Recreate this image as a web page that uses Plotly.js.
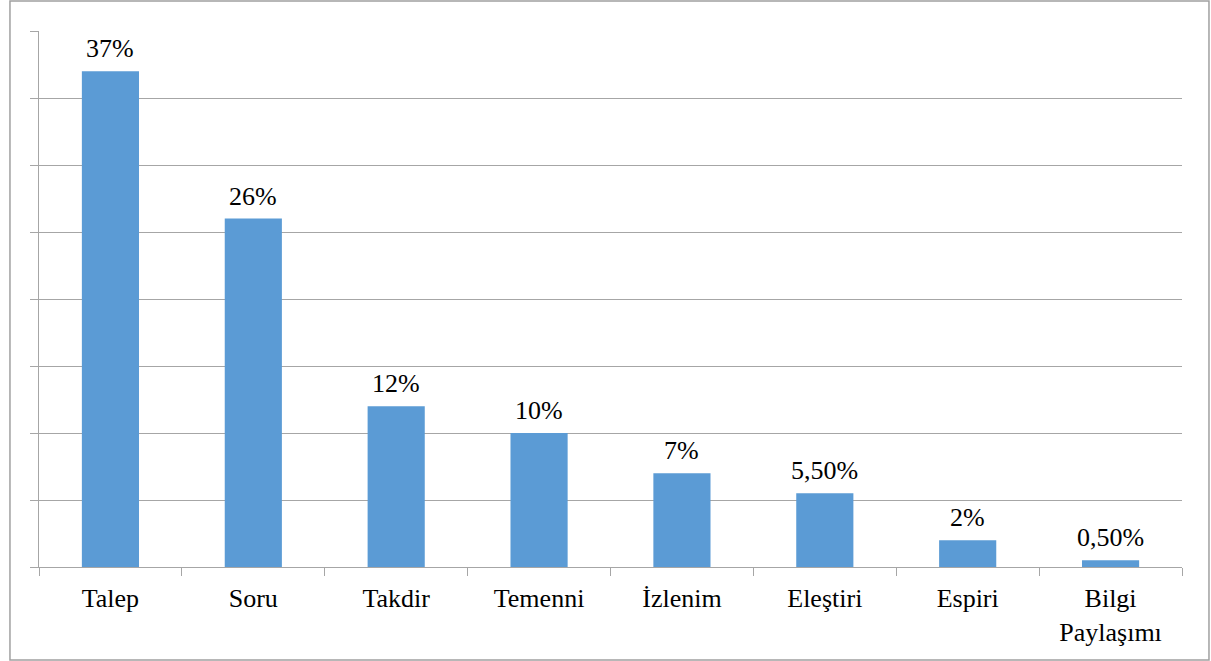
<!DOCTYPE html>
<html>
<head>
<meta charset="utf-8">
<script src="https://cdn.plot.ly/plotly-3.0.1.min.js"></script>
<style>html,body{margin:0;padding:0;background:#fff;}#chart{width:1211px;height:661px;}</style>
</head>
<body>
<div id="chart"></div>
<script>
const categories = ["Talep", "Soru", "Takdir", "Temenni", "İzlenim", "Eleştiri", "Espiri", "Bilgi<br>Paylaşımı"];
const values = [37, 26, 12, 10, 7, 5.5, 2, 0.5];
const valueLabels = ["37%", "26%", "12%", "10%", "7%", "5,50%", "2%", "0,50%"];

const font = "Times New Roman, Liberation Serif, serif";
const grey = "#a6a6a6";

const trace = {
  type: "bar",
  x: categories,
  y: values,
  marker: {color: "#5B9BD5"},
  hoverinfo: "skip"
};

const annotations = categories.map((c, i) => ({
  x: c,
  y: values[i],
  xref: "x",
  yref: "y",
  text: valueLabels[i],
  showarrow: false,
  yanchor: "bottom",
  yshift: 6,
  font: {family: font, size: 26, color: "#000"}
}));

const layout = {
  width: 1211,
  height: 661,
  margin: {l: 39, r: 29, t: 31, b: 94},
  paper_bgcolor: "#fff",
  plot_bgcolor: "#fff",
  bargap: 0.6,
  showlegend: false,
  font: {family: font, size: 26, color: "#000"},
  annotations: annotations,
  xaxis: {
    type: "category",
    showline: true,
    linecolor: grey,
    linewidth: 1,
    ticks: "outside",
    tickson: "boundaries",
    ticklen: 8,
    tickcolor: grey,
    showgrid: false,
    ticklabelstandoff: 8,
    tickfont: {family: font, size: 26, color: "#000"},
    fixedrange: true
  },
  yaxis: {
    range: [0, 40],
    dtick: 5,
    showticklabels: false,
    ticks: "outside",
    ticklen: 8,
    tickcolor: grey,
    showline: true,
    linecolor: grey,
    gridcolor: grey,
    zeroline: false,
    fixedrange: true
  },
  shapes: [{
    type: "rect",
    xref: "paper", yref: "paper",
    x0: -0.0254, x1: 1.0236,
    y0: -0.1735, y1: 1.0560,
    line: {color: "#a0a0a0", width: 1.5},
    fillcolor: "rgba(0,0,0,0)",
    layer: "below"
  }]
};

Plotly.newPlot("chart", [trace], layout, {displayModeBar: false, staticPlot: true});
</script>
</body>
</html>
